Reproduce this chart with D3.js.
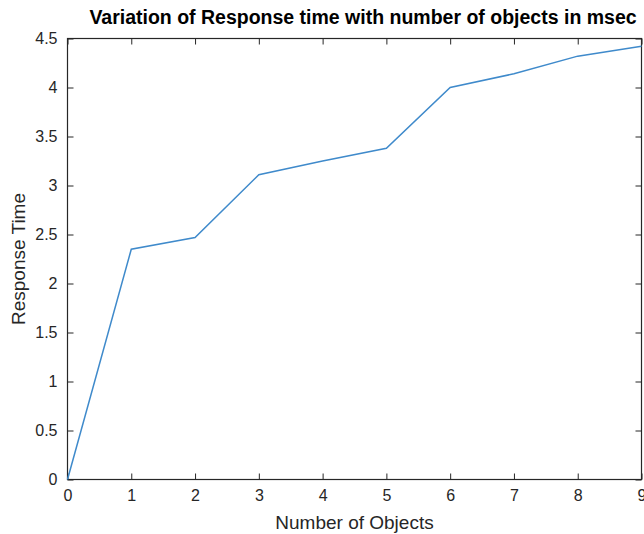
<!DOCTYPE html>
<html>
<head>
<meta charset="utf-8">
<script src="https://cdn.jsdelivr.net/npm/d3@7"></script>
<style>
  body { margin: 0; background: #fff; }
  text { font-family: "Liberation Sans", Arial, sans-serif; fill: #262626; }
</style>
</head>
<body>
<div id="chart"></div>
<script>
// data
var objects = [0, 1, 2, 3, 4, 5, 6, 7, 8, 9];
var responseTime = [0, 2.35, 2.47, 3.11, 3.25, 3.38, 4.0, 4.14, 4.32, 4.42];
var xTicks = [0, 1, 2, 3, 4, 5, 6, 7, 8, 9];
var yTicks = [0, 0.5, 1, 1.5, 2, 2.5, 3, 3.5, 4, 4.5];

var W = 644, H = 534;
var m = {left: 67.5, right: 2.5, top: 38.5, bottom: 54.5};
var iw = W - m.left - m.right, ih = H - m.top - m.bottom;

var svg = d3.select('#chart').append('svg')
  .attr('width', W).attr('height', H);

var x = d3.scaleLinear().domain([0, 9]).range([0, iw]);
var y = d3.scaleLinear().domain([0, 4.5]).range([ih, 0]);

var g = svg.append('g').attr('transform', 'translate(' + m.left + ',' + m.top + ')');

// ticks point inward, like matlab
var styleAxis = function(sel) {
  sel.select('.domain').remove();
  sel.selectAll('line').attr('stroke', '#262626');
  sel.selectAll('text').style('font-size', '16px');
};

g.append('g').attr('transform', 'translate(0,' + ih + ')')
  .call(d3.axisBottom(x).tickValues(xTicks).tickSizeInner(-6).tickSizeOuter(0).tickPadding(10))
  .call(styleAxis);
g.append('g')
  .call(d3.axisTop(x).tickValues(xTicks).tickSizeInner(-6).tickSizeOuter(0).tickFormat(''))
  .call(styleAxis);
g.append('g')
  .call(d3.axisLeft(y).tickValues(yTicks).tickSizeInner(-6).tickSizeOuter(0).tickPadding(10)
    .tickFormat(function(d) { return d3.format('')(d); }))
  .call(styleAxis);
g.append('g').attr('transform', 'translate(' + iw + ',0)')
  .call(d3.axisRight(y).tickValues(yTicks).tickSizeInner(-6).tickSizeOuter(0).tickFormat(''))
  .call(styleAxis);

// box
g.append('rect')
  .attr('width', iw).attr('height', ih)
  .attr('fill', 'none').attr('stroke', '#262626').attr('stroke-width', 1.2);

var line = d3.line()
  .x(function(d, i) { return x(objects[i]); })
  .y(function(d) { return y(d); });

g.append('path').datum(responseTime)
  .attr('d', line)
  .attr('fill', 'none')
  .attr('stroke', '#3f8acb')
  .attr('stroke-width', 1.5);

svg.append('text')
  .attr('x', 363).attr('y', 24)
  .attr('text-anchor', 'middle')
  .style('font-size', '19.5px').style('font-weight', 'bold')
  .style('fill', '#000')
  .text('Variation of Response time with number of objects in msec');

svg.append('text')
  .attr('x', m.left + iw / 2).attr('y', 529)
  .attr('text-anchor', 'middle')
  .style('font-size', '19px')
  .text('Number of Objects');

svg.append('text')
  .attr('transform', 'translate(25,' + (m.top + ih / 2) + ') rotate(-90)')
  .attr('text-anchor', 'middle')
  .style('font-size', '19px')
  .text('Response Time');
</script>
</body>
</html>
